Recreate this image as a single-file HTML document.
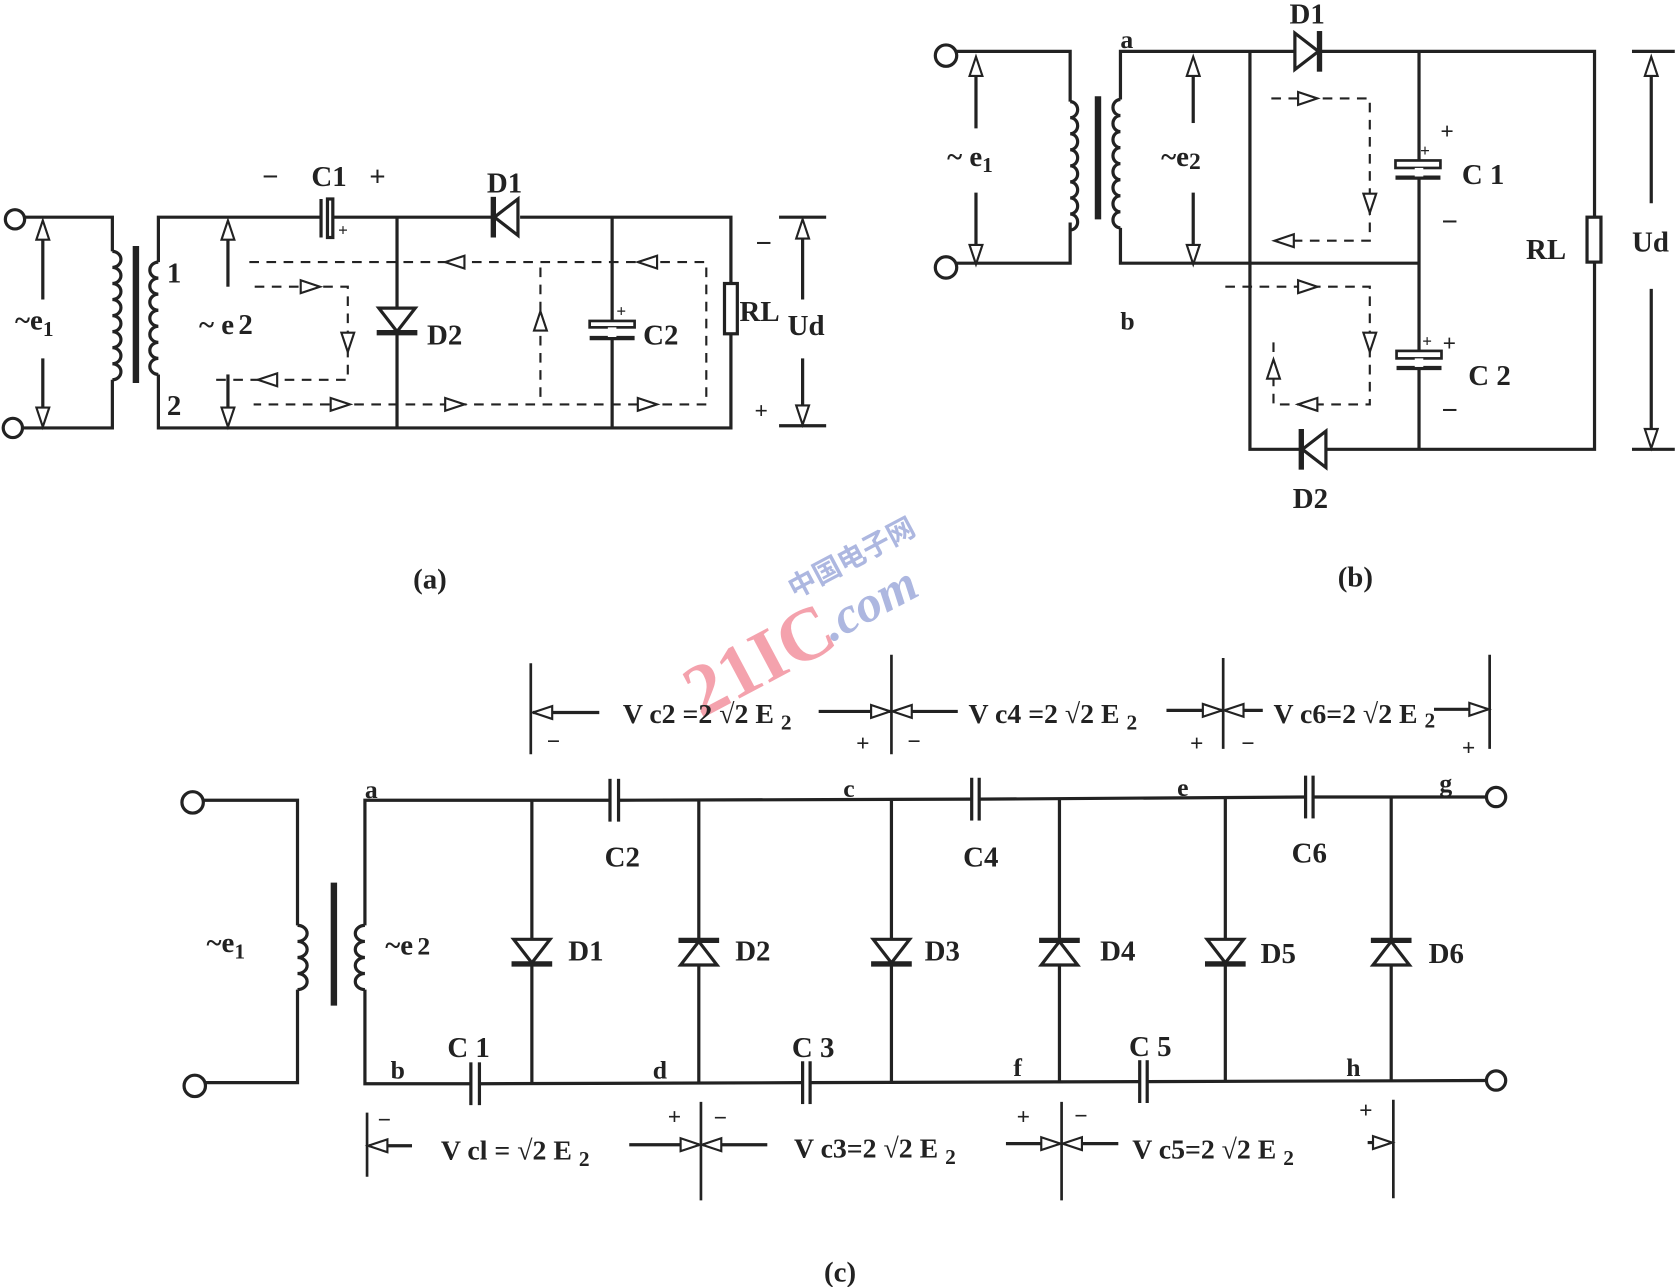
<!DOCTYPE html>
<html><head><meta charset="utf-8"><style>
html,body{margin:0;padding:0;background:#fff;}
svg{display:block;}
text{font-family:"Liberation Serif","Noto Serif CJK SC",serif;fill:#222;font-weight:bold;}
</style></head><body>
<svg width="1678" height="1287" viewBox="0 0 1568 1203" preserveAspectRatio="none" xmlns="http://www.w3.org/2000/svg">
<defs>
<polygon id="tr" points="-9,-6 9,0 -9,6" fill="#fff" stroke="#222" stroke-width="2"/>
<g id="dd"><polygon points="-17,-12 17,-12 0,10" fill="#fff" stroke="#222" stroke-width="3"/><line x1="-19" y1="11" x2="19" y2="11" stroke="#222" stroke-width="5"/></g>
</defs>
<!-- watermark -->
<g transform="translate(655,672) rotate(-28)" opacity="0.6">
<text x="0" y="0" font-size="70" style="fill:#ee6677">21IC</text>
<text x="142" y="-6" font-size="48" font-style="italic" style="fill:#7788cc">.com</text>
<text x="130" y="-58" font-size="26" style="fill:#7788cc;font-family:'Noto Sans CJK SC',sans-serif">中国电子网</text>
</g>
<g stroke="#222" stroke-width="3" fill="none">
<!-- ===== (a) ===== -->
<circle cx="14" cy="205" r="9" fill="#fff"/><circle cx="12" cy="400" r="9" fill="#fff"/>
<polyline points="23,203 105,203 105,235"/><polyline points="21,400 105,400 105,355"/>
<path d="M105,235 a8,7.5 0 0 1 0,15 a8,7.5 0 0 1 0,15 a8,7.5 0 0 1 0,15 a8,7.5 0 0 1 0,15 a8,7.5 0 0 1 0,15 a8,7.5 0 0 1 0,15 a8,7.5 0 0 1 0,15 a8,7.5 0 0 1 0,15"/>
<line x1="127" y1="230" x2="127" y2="358" stroke-width="6"/>
<path d="M148,245 a8,7.5 0 0 0 0,15 a8,7.5 0 0 0 0,15 a8,7.5 0 0 0 0,15 a8,7.5 0 0 0 0,15 a8,7.5 0 0 0 0,15 a8,7.5 0 0 0 0,15 a8,7.5 0 0 0 0,15"/>
<polyline points="148,245 148,203 300,203"/><polyline points="148,350 148,400 683,400 683,203 486,203"/>
<line x1="309" y1="203" x2="460" y2="203"/>
<line x1="300" y1="186" x2="300" y2="222"/><rect x="306" y="186" width="5" height="36" fill="#fff"/>
<line x1="371" y1="203" x2="371" y2="400"/><line x1="572" y1="203" x2="572" y2="400"/>
<rect x="677" y="265" width="12" height="47" fill="#fff"/>
<line x1="40" y1="212" x2="40" y2="280"/><line x1="40" y1="335" x2="40" y2="392"/>
<line x1="213" y1="212" x2="213" y2="268"/><line x1="213" y1="350" x2="213" y2="392"/>
<line x1="728" y1="203" x2="772" y2="203"/><line x1="728" y1="398" x2="772" y2="398"/>
<line x1="750" y1="212" x2="750" y2="280"/><line x1="750" y1="335" x2="750" y2="390"/>
</g>
<g transform="translate(472,203) rotate(90)"><use href="#dd"/></g>
<g transform="translate(371,300)"><use href="#dd"/></g>
<rect x="551" y="300" width="42" height="6" fill="#fff" stroke="#222" stroke-width="2.5"/>
<line x1="551" y1="316" x2="593" y2="316" stroke="#222" stroke-width="4"/>
<rect x="568" y="306" width="8" height="9" fill="#fff"/>
<use href="#tr" transform="translate(40,215) rotate(-90)"/><use href="#tr" transform="translate(40,390) rotate(90)"/>
<use href="#tr" transform="translate(213,215) rotate(-90)"/><use href="#tr" transform="translate(213,390) rotate(90)"/>
<use href="#tr" transform="translate(750,214) rotate(-90)"/><use href="#tr" transform="translate(750,388) rotate(90)"/>
<g stroke="#222" stroke-width="2" stroke-dasharray="9,7" fill="none">
<polyline points="233,245 660,245 660,378 237,378"/>
<polyline points="238,268 325,268 325,355 195,355"/>
<line x1="505" y1="250" x2="505" y2="378"/>
</g>
<use href="#tr" transform="translate(425,245) rotate(180)"/><use href="#tr" transform="translate(605,245) rotate(180)"/>
<use href="#tr" transform="translate(318,378)"/><use href="#tr" transform="translate(425,378)"/><use href="#tr" transform="translate(605,378)"/>
<use href="#tr" transform="translate(290,268)"/><use href="#tr" transform="translate(325,320) rotate(90)"/>
<use href="#tr" transform="translate(250,355) rotate(180)"/><use href="#tr" transform="translate(505,300) rotate(-90)"/>
<g font-size="27">
<text x="245" y="174">−</text><text x="291" y="174">C1</text><text x="345" y="174">+</text>
<text x="455" y="180">D1</text><text x="316" y="220" font-size="16">+</text>
<text x="399" y="322">D2</text><text x="601" y="322">C2</text><text x="576" y="296" font-size="16">+</text>
<text x="691" y="300">RL</text><text x="736" y="313">Ud</text>
<text x="706" y="236">−</text><text x="705" y="391" font-size="22">+</text>
<text x="156" y="264">1</text><text x="156" y="388">2</text>
<text x="14" y="308">~e<tspan font-size="20" dy="6">1</tspan></text>
<text x="186" y="312">~ e<tspan dx="4">2</tspan></text>
<text x="386" y="550" font-weight="normal">(a)</text>
</g>
<!-- ===== (b) ===== -->
<g stroke="#222" stroke-width="3" fill="none">
<circle cx="884" cy="52" r="10" fill="#fff"/><circle cx="884" cy="250" r="10" fill="#fff"/>
<polyline points="894,48 1000,48 1000,95"/><polyline points="894,246 1000,246 1000,208"/>
<path d="M1000,95 a7,7.5 0 0 1 0,15 a7,7.5 0 0 1 0,15 a7,7.5 0 0 1 0,15 a7,7.5 0 0 1 0,15 a7,7.5 0 0 1 0,15 a7,7.5 0 0 1 0,15 a7,7.5 0 0 1 0,15 a7,7.5 0 0 1 0,15"/>
<line x1="1026" y1="90" x2="1026" y2="205" stroke-width="6"/>
<path d="M1047,93 a7,7.5 0 0 0 0,15 a7,7.5 0 0 0 0,15 a7,7.5 0 0 0 0,15 a7,7.5 0 0 0 0,15 a7,7.5 0 0 0 0,15 a7,7.5 0 0 0 0,15 a7,7.5 0 0 0 0,15 a7,7.5 0 0 0 0,15"/>
<polyline points="1047,93 1047,48 1490,48 1490,420 1168,420 1168,48"/>
<polyline points="1047,213 1047,246 1326,246"/>
<line x1="1326" y1="48" x2="1326" y2="420"/>
<rect x="1483" y="203" width="13" height="42" fill="#fff"/>
<line x1="912" y1="60" x2="912" y2="120"/><line x1="912" y1="180" x2="912" y2="240"/>
<line x1="1115" y1="60" x2="1115" y2="115"/><line x1="1115" y1="180" x2="1115" y2="240"/>
<line x1="1525" y1="48" x2="1565" y2="48"/><line x1="1525" y1="420" x2="1565" y2="420"/>
<line x1="1543" y1="55" x2="1543" y2="190"/><line x1="1543" y1="270" x2="1543" y2="412"/>
</g>
<g transform="translate(1222,48) rotate(-90)"><use href="#dd"/></g>
<g transform="translate(1227,420) rotate(90)"><use href="#dd"/></g>
<rect x="1304" y="150" width="42" height="7" fill="#fff" stroke="#222" stroke-width="2.5"/><line x1="1304" y1="166" x2="1346" y2="166" stroke="#222" stroke-width="4"/><rect x="1322" y="157" width="8" height="8" fill="#fff"/>
<rect x="1305" y="328" width="42" height="7" fill="#fff" stroke="#222" stroke-width="2.5"/><line x1="1305" y1="344" x2="1347" y2="344" stroke="#222" stroke-width="4"/><rect x="1322" y="335" width="8" height="8" fill="#fff"/>
<use href="#tr" transform="translate(912,62) rotate(-90)"/><use href="#tr" transform="translate(912,238) rotate(90)"/>
<use href="#tr" transform="translate(1115,62) rotate(-90)"/><use href="#tr" transform="translate(1115,238) rotate(90)"/>
<use href="#tr" transform="translate(1543,62) rotate(-90)"/><use href="#tr" transform="translate(1543,410) rotate(90)"/>
<g stroke="#222" stroke-width="2" stroke-dasharray="9,7" fill="none">
<polyline points="1188,92 1280,92 1280,225 1190,225"/>
<polyline points="1145,268 1280,268 1280,378 1190,378 1190,320"/>
</g>
<use href="#tr" transform="translate(1222,92)"/><use href="#tr" transform="translate(1280,190) rotate(90)"/><use href="#tr" transform="translate(1200,225) rotate(180)"/>
<use href="#tr" transform="translate(1222,268)"/><use href="#tr" transform="translate(1280,320) rotate(90)"/><use href="#tr" transform="translate(1222,378) rotate(180)"/><use href="#tr" transform="translate(1190,345) rotate(-90)"/>
<g font-size="27">
<text x="1205" y="22">D1</text><text x="1208" y="475">D2</text>
<text x="1047" y="45" font-size="24">a</text><text x="1047" y="308" font-size="24">b</text>
<text x="1366" y="172">C 1</text><text x="1372" y="360">C 2</text>
<text x="1346" y="130" font-size="22">+</text><text x="1327" y="146" font-size="16">+</text>
<text x="1348" y="328" font-size="22">+</text><text x="1329" y="324" font-size="16">+</text>
<text x="1347" y="216">−</text><text x="1347" y="392">−</text>
<text x="1426" y="242">RL</text><text x="1525" y="235">Ud</text>
<text x="885" y="155">~ e<tspan font-size="20" dy="6">1</tspan></text>
<text x="1085" y="155">~e<tspan font-size="22" dy="3">2</tspan></text>
<text x="1250" y="548" font-weight="normal">(b)</text>
</g>
<!-- ===== (c) ===== -->
<g stroke="#222" stroke-width="3" fill="none">
<circle cx="180" cy="750" r="10" fill="#fff"/><circle cx="182" cy="1015" r="10" fill="#fff"/>
<polyline points="190,748 278,748 278,865"/><polyline points="192,1012 278,1012 278,925"/>
<path d="M278,865 a9,7.5 0 0 1 0,15 a9,7.5 0 0 1 0,15 a9,7.5 0 0 1 0,15 a9,7.5 0 0 1 0,15"/>
<line x1="312" y1="825" x2="312" y2="940" stroke-width="6"/>
<path d="M341,865 a9,7.5 0 0 0 0,15 a9,7.5 0 0 0 0,15 a9,7.5 0 0 0 0,15 a9,7.5 0 0 0 0,15"/>
<polyline points="341,865 341,748 570,748"/><polyline points="341,925 341,1013 440,1013"/>
<line x1="578" y1="748" x2="908" y2="747"/><line x1="915" y1="747" x2="1220" y2="745"/><line x1="1227" y1="745" x2="1388" y2="745"/>
<line x1="448" y1="1013" x2="750" y2="1012"/><line x1="757" y1="1012" x2="1065" y2="1011"/><line x1="1072" y1="1011" x2="1388" y2="1010"/>
<line x1="570" y1="728" x2="570" y2="768"/><line x1="578" y1="728" x2="578" y2="768"/>
<line x1="908" y1="727" x2="908" y2="767"/><line x1="915" y1="727" x2="915" y2="767"/>
<line x1="1220" y1="725" x2="1220" y2="765"/><line x1="1227" y1="725" x2="1227" y2="765"/>
<line x1="440" y1="993" x2="440" y2="1033"/><line x1="448" y1="993" x2="448" y2="1033"/>
<line x1="750" y1="992" x2="750" y2="1032"/><line x1="757" y1="992" x2="757" y2="1032"/>
<line x1="1065" y1="991" x2="1065" y2="1031"/><line x1="1072" y1="991" x2="1072" y2="1031"/>
<circle cx="1398" cy="745" r="9" fill="#fff"/><circle cx="1398" cy="1010" r="9" fill="#fff"/>
<line x1="497" y1="748" x2="497" y2="1013"/><line x1="653" y1="748" x2="653" y2="1012"/>
<line x1="833" y1="747" x2="833" y2="1012"/><line x1="990" y1="746" x2="990" y2="1011"/>
<line x1="1145" y1="745" x2="1145" y2="1011"/><line x1="1300" y1="745" x2="1300" y2="1010"/>
<line x1="496" y1="620" x2="496" y2="705" stroke-width="2.5"/><line x1="833" y1="612" x2="833" y2="705" stroke-width="2.5"/>
<line x1="1143" y1="615" x2="1143" y2="700" stroke-width="2.5"/><line x1="1392" y1="612" x2="1392" y2="700" stroke-width="2.5"/>
<line x1="498" y1="666" x2="560" y2="666"/><line x1="765" y1="665" x2="832" y2="665"/>
<line x1="835" y1="665" x2="895" y2="665"/><line x1="1090" y1="664" x2="1142" y2="664"/>
<line x1="1145" y1="664" x2="1180" y2="664"/><line x1="1340" y1="663" x2="1390" y2="663"/>
<line x1="343" y1="1040" x2="343" y2="1100" stroke-width="2.5"/><line x1="655" y1="1030" x2="655" y2="1122" stroke-width="2.5"/>
<line x1="992" y1="1030" x2="992" y2="1122" stroke-width="2.5"/><line x1="1302" y1="1028" x2="1302" y2="1120" stroke-width="2.5"/>
<line x1="345" y1="1071" x2="385" y2="1071"/><line x1="588" y1="1070" x2="653" y2="1070"/>
<line x1="657" y1="1070" x2="717" y2="1070"/><line x1="940" y1="1069" x2="990" y2="1069"/>
<line x1="994" y1="1069" x2="1045" y2="1069"/><line x1="1278" y1="1068" x2="1300" y2="1068"/>
</g>
<g transform="translate(497,890)"><use href="#dd"/></g>
<g transform="translate(653,890) rotate(180)"><use href="#dd"/></g>
<g transform="translate(833,890)"><use href="#dd"/></g>
<g transform="translate(990,890) rotate(180)"><use href="#dd"/></g>
<g transform="translate(1145,890)"><use href="#dd"/></g>
<g transform="translate(1300,890) rotate(180)"><use href="#dd"/></g>
<use href="#tr" transform="translate(507,666) rotate(180)"/><use href="#tr" transform="translate(823,665)"/>
<use href="#tr" transform="translate(843,665) rotate(180)"/><use href="#tr" transform="translate(1133,664)"/>
<use href="#tr" transform="translate(1153,664) rotate(180)"/><use href="#tr" transform="translate(1382,663)"/>
<use href="#tr" transform="translate(353,1071) rotate(180)"/><use href="#tr" transform="translate(645,1070)"/>
<use href="#tr" transform="translate(665,1070) rotate(180)"/><use href="#tr" transform="translate(982,1069)"/>
<use href="#tr" transform="translate(1002,1069) rotate(180)"/><use href="#tr" transform="translate(1292,1068)"/>
<g font-size="27">
<text x="193" y="890">~e<tspan font-size="20" dy="6">1</tspan></text>
<text x="360" y="892">~e<tspan dx="4" font-size="24">2</tspan></text>
<text x="341" y="746" font-size="24">a</text><text x="788" y="745" font-size="24">c</text><text x="1100" y="744" font-size="24">e</text><text x="1345" y="740" font-size="24">g</text>
<text x="365" y="1008" font-size="24">b</text><text x="610" y="1008" font-size="24">d</text><text x="947" y="1006" font-size="24">f</text><text x="1258" y="1006" font-size="24">h</text>
<text x="565" y="810">C2</text><text x="900" y="810">C4</text><text x="1207" y="806">C6</text>
<text x="418" y="988">C 1</text><text x="740" y="988">C 3</text><text x="1055" y="987">C 5</text>
<text x="531" y="898">D1</text><text x="687" y="898">D2</text><text x="864" y="898">D3</text>
<text x="1028" y="898">D4</text><text x="1178" y="900">D5</text><text x="1335" y="900">D6</text>
<text x="582" y="676" font-size="26">V c2 =2 √2 E <tspan font-size="20" dy="6">2</tspan></text>
<text x="905" y="676" font-size="26">V c4 =2 √2 E <tspan font-size="20" dy="6">2</tspan></text>
<text x="1190" y="676" font-size="26">V c6=2 √2 E <tspan font-size="20" dy="4">2</tspan></text>
<text x="412" y="1084" font-size="26">V cl = √2 E <tspan font-size="20" dy="6">2</tspan></text>
<text x="742" y="1082" font-size="26">V c3=2 √2 E <tspan font-size="20" dy="6">2</tspan></text>
<text x="1058" y="1083" font-size="26">V c5=2 √2 E <tspan font-size="20" dy="6">2</tspan></text>
<g font-size="22">
<text x="511" y="700">−</text><text x="800" y="702">+</text><text x="848" y="700">−</text><text x="1112" y="702">+</text><text x="1160" y="702">−</text><text x="1366" y="706">+</text>
<text x="353" y="1054">−</text><text x="624" y="1051">+</text><text x="667" y="1052">−</text><text x="950" y="1051">+</text><text x="1004" y="1050">−</text><text x="1270" y="1045">+</text>
</g>
<text x="770" y="1198" font-weight="normal">(c)</text>
</g>
</svg>
</body></html>
